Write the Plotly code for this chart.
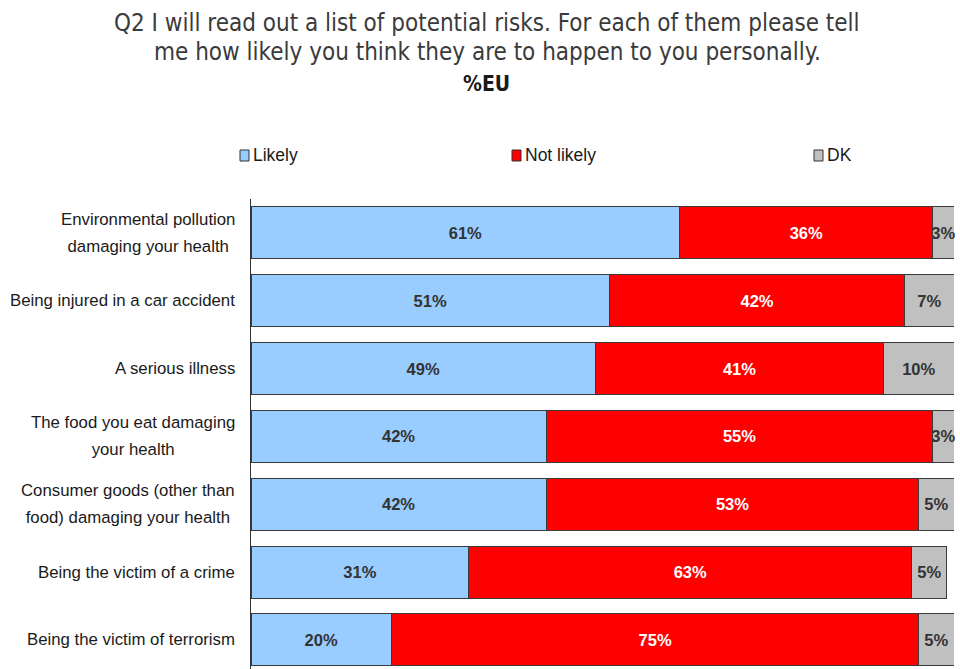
import plotly.graph_objects as go

# Survey items (top to bottom) and answer shares in percent
risks = [
    "Environmental pollution<br>damaging your health",
    "Being injured in a car accident",
    "A serious illness",
    "The food you eat damaging<br>your health",
    "Consumer goods (other than<br>food) damaging your health",
    "Being the victim of a crime",
    "Being the victim of terrorism",
]
likely = [61, 51, 49, 42, 42, 31, 20]
not_likely = [36, 42, 41, 55, 53, 63, 75]
dk = [3, 7, 10, 3, 5, 5, 5]

series_names = ["Likely", "Not likely", "DK"]
series_values = [likely, not_likely, dk]
fill_colors = ["#99CCFF", "#FF0000", "#C0C0C0"]
label_colors = ["#333333", "#FFFFFF", "#333333"]

title_lines = [
    "Q2 I will read out a list of potential risks. For each of them please tell",
    "me how likely you think they are to happen to you personally.",
]
subtitle = "%EU"

SANS = "Liberation Sans"

W, H = 960, 669
M_L, M_R, M_T, M_B = 251, 6, 199, 0
pw = W - M_L - M_R
ph = H - M_T - M_B


def px_x(px):
    return (px - M_L) / pw


def px_y(py):
    return 1 + (M_T - py) / ph


fig = go.Figure()
for name, vals, col, tcol in zip(series_names, series_values, fill_colors, label_colors):
    fig.add_trace(go.Bar(
        name=name,
        y=risks,
        x=vals,
        orientation="h",
        marker=dict(color=col, line=dict(color="#3a3a3a", width=1)),
        text=[f"{v}%" for v in vals],
        textposition="inside",
        insidetextanchor="middle",
        textangle=0,
        constraintext="none",
        cliponaxis=False,
        textfont=dict(family=SANS, size=16.5, color=tcol, weight="bold"),
        showlegend=False,
        hoverinfo="skip",
    ))

annotations = []
shapes = []

# Category labels: centred multi-line text, right-aligned against the axis.
# The outer font size sets the line pitch, the inner span the glyph size.
for r in risks:
    inner = "<br>".join(
        f"<span style='font-size:16.8px'>{part}</span>" for part in r.split("<br>")
    )
    annotations.append(dict(
        x=0, xref="paper", y=r, yref="y", xanchor="right", yanchor="middle",
        xshift=-14, align="center", showarrow=False, text=inner,
        font=dict(family=SANS, size=21, color="#1a1a1a"),
    ))

# Title block
title_font = dict(family="DejaVu Sans Condensed", size=24, color="#3a3a3a")
for line, yy in zip(title_lines, [23, 52]):
    annotations.append(dict(
        x=px_x(487), xref="paper", y=px_y(yy), yref="paper",
        xanchor="center", yanchor="middle", showarrow=False, text=line,
        font=title_font,
    ))
annotations.append(dict(
    x=px_x(486), xref="paper", y=px_y(84), yref="paper",
    xanchor="center", yanchor="middle", showarrow=False,
    text=f"<b>{subtitle}</b>",
    font=dict(family="DejaVu Sans Condensed", size=21, color="#1a1a1a"),
))

# Legend row: small boxed swatch followed by the series name
legend_px = [244, 516, 818]
legend_y = 155
for name, col, px in zip(series_names, fill_colors, legend_px):
    shapes.append(dict(type="rect", xref="paper", yref="paper",
                       x0=px_x(px - 4), x1=px_x(px + 5),
                       y0=px_y(legend_y + 6), y1=px_y(legend_y - 5),
                       fillcolor=col, line=dict(color="#333333", width=1)))
    annotations.append(dict(
        x=px_x(px + 7), xref="paper", y=px_y(legend_y), yref="paper",
        xanchor="left", yanchor="middle", showarrow=False, text=name,
        font=dict(family=SANS, size=17.5, color="#1a1a1a"),
    ))

fig.update_layout(
    width=W, height=H,
    margin=dict(l=M_L, r=M_R, t=M_T, b=M_B),
    barmode="stack",
    bargap=0.233,
    plot_bgcolor="white",
    paper_bgcolor="white",
    showlegend=False,
    annotations=annotations,
    shapes=shapes,
    xaxis=dict(range=[0, 100], showgrid=False, zeroline=False,
               showticklabels=False, showline=False, fixedrange=True),
    yaxis=dict(range=[6.43, -0.5], showgrid=False, zeroline=False,
               showticklabels=False, ticks="", showline=True,
               linecolor="#333333", linewidth=1, fixedrange=True),
)

fig.write_html("out.html", config={"displayModeBar": False})
